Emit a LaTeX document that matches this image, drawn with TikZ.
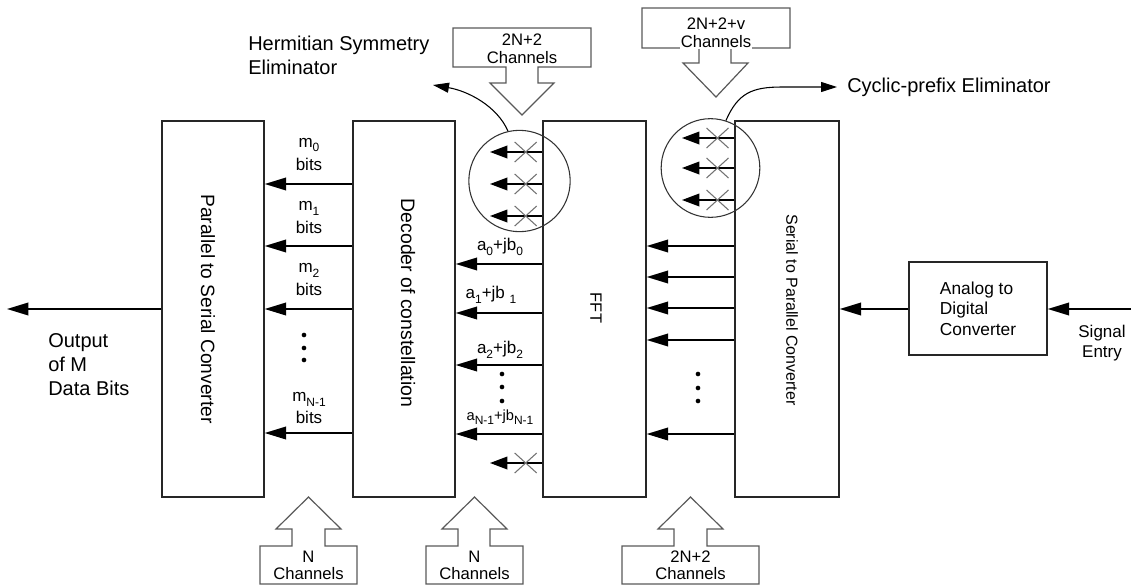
\documentclass[tikz,border=0pt]{standalone}
\usepackage{fontspec}
\setmainfont{Liberation Sans}
\usetikzlibrary{arrows.meta,shapes.geometric}
\newcommand\lowsub[1]{\raisebox{-0.55ex}{\fontsize{9}{9}\selectfont #1}}
\begin{document}
\begin{tikzpicture}[x=0.75pt,y=-0.75pt,
 blk/.style={draw=black!85,line width=1.1pt,minimum width=76.5pt,minimum height=282pt,inner sep=0pt},
 arr/.style={line width=1.1pt,-{Triangle[length=16pt,width=9.5pt]}},
 sarr/.style={line width=1.1pt,-{Triangle[length=13pt,width=9.5pt]}},
 carr/.style={line width=0.8pt,-{Triangle[length=12pt,width=7.5pt]}},
 xmark/.style={draw=black!55,line width=0.8pt},
 barrow/.style={draw=black!65,line width=0.9pt},
 vtext/.style={rotate=-90,inner sep=0pt},
 lbl/.style={font=\fontsize{12.75}{13.5}\selectfont,inner sep=0pt,align=center},
 big/.style={font=\fontsize{15}{18}\selectfont,inner sep=0pt,align=left},
 ch/.style={font=\fontsize{12.5}{14}\selectfont,inner sep=0pt},
 dot/.style={circle,fill,inner sep=0pt,minimum size=3.5pt},
 ring/.style={circle,draw=black!80,line width=0.8pt,minimum size=75pt,inner sep=0pt}
]
\useasboundingbox (0,0) rectangle (1131,585);

% main blocks
\node[blk] (p2s) at (213,309) {};
\node[blk] (dec) at (404,309) {};
\node[blk,minimum width=77.25pt] (fft) at (594.5,309) {};
\node[blk,minimum width=78pt] (s2p) at (787,309) {};
\node[draw=black!85,line width=1.1pt,minimum width=103.5pt,minimum height=69.75pt,inner sep=0pt,
      align=left,font=\fontsize{13}{15.4}\selectfont] (adc) at (978,308.5) {Analog to\\Digital\\Converter};

\node[vtext,font=\fontsize{14.4}{17}\selectfont] (p2sL) at (208,309) {Parallel to Serial Converter};
\node[vtext,font=\fontsize{14.6}{17}\selectfont] (decL) at (408,303) {Decoder of constellation};
\node[vtext,font=\fontsize{12.3}{15}\selectfont] (fftL) at (596,308) {FFT};
\node[vtext,font=\fontsize{12}{15}\selectfont] (s2pL) at (792,310) {Serial to Parallel Converter};

% output and input
\coordinate (out) at (7,309);
\draw[arr] (p2s.west |- 0,309) -- (out);
\node[big] (outL) at (48,365) [anchor=west] {Output\\of M\\Data Bits};
\coordinate (sig) at (1131,309);
\draw[arr] (sig) -- (adc.east |- sig);
\draw[arr] (adc.west |- sig) -- (s2p.east |- sig);
\node[font=\fontsize{12.75}{15}\selectfont,align=center,inner sep=0pt] (sigL) at (1102,343) {Signal\\Entry};

% decoder -> p2s
\foreach \y in {184,246,309,433} \draw[arr] (dec.west |- 0,\y) -- (p2s.east |- 0,\y);
\node[lbl] (m0) at (309,145) {m\lowsub{0}};
\node[lbl] (m0b) at (309,164) {bits};
\node[lbl] (m1) at (309,208) {m\lowsub{1}};
\node[lbl] (m1b) at (309,227) {bits};
\node[lbl] (m2) at (309,270) {m\lowsub{2}};
\node[lbl] (m2b) at (309,289) {bits};
\node[lbl] (mN) at (309,399) {m\lowsub{N-1}};
\node[lbl] (mNb) at (309,417) {bits};
\foreach \y [count=\i] in {335,348,360} \node[dot] (md\i) at (304,\y) {};

% fft -> decoder
\foreach \y in {264,313,365,434} \draw[arr] (fft.west |- 0,\y) -- (dec.east |- 0,\y);
\node[lbl] (a0) at (500,247) {a\lowsub{0}+jb\lowsub{0}};
\node[lbl] (a1) at (491,295) {a\lowsub{1}+jb \lowsub{1}};
\node[lbl] (a2) at (500,350) {a\lowsub{2}+jb\lowsub{2}};
\node[lbl,font=\fontsize{11}{12}\selectfont] (aN) at (500,417) {a\lowsub{N-1}+jb\lowsub{N-1}};
\foreach \y [count=\i] in {374,387,401} \node[dot] (ad\i) at (502,\y) {};

% s2p -> fft
\foreach \y in {246,277,308,340,434} \draw[arr] (s2p.west |- 0,\y) -- (fft.east |- 0,\y);
\foreach \y [count=\i] in {374,388,401} \node[dot] (sd\i) at (698,\y) {};

% Hermitian symmetry eliminator
\node[ring,minimum size=76pt] (herm) at (519.5,181) {};
\foreach \y [count=\i] in {152,184,216,463} {
  \coordinate (he\i) at (490,\y);
  \draw[sarr] (fft.west |- 0,\y) -- (he\i);
  \draw[xmark] (514.7,\y-10) -- (536.7,\y+10) (514.7,\y+10) -- (536.7,\y-10);
}
\coordinate (hermEnd) at (433,85);
\draw[carr] (herm.103) .. controls (497,106) and (468,91) .. (hermEnd);
\node[big] (hermL) at (248,55) [anchor=west] {Hermitian Symmetry\\Eliminator};

% cyclic prefix eliminator
\node[ring,minimum size=74pt] (cyc) at (710.5,168) {};
\foreach \y [count=\i] in {138,168,200} {
  \coordinate (ce\i) at (682,\y);
  \draw[sarr] (s2p.west |- 0,\y) -- (ce\i);
  \draw[xmark] (706.5,\y-10) -- (728.5,\y+10) (706.5,\y+10) -- (728.5,\y-10);
}
\coordinate (cycEnd) at (837,87);
\draw[carr] (cyc.72) .. controls (738,93) and (752,87) .. (782,87) -- (cycEnd);
\node[big] (cycL) at (847,87) [anchor=west] {Cyclic-prefix Eliminator};

% top block arrows
\draw[barrow] (506,67) -- (453,67) -- (453,28) -- (591,28) -- (591,67) -- (538,67) -- (538,83) -- (554,83) -- (522,115) -- (490,83) -- (506,83) -- cycle;
\node[ch] (t1a) at (522,40) {2N+2};
\node[ch] (t1b) at (522,58) {Channels};
\draw[barrow] (699,48) -- (642,48) -- (642,8) -- (790,8) -- (790,48) -- (731,48) -- (731,63) -- (748,63) -- (716,97) -- (683,63) -- (699,63) -- cycle;
\node[ch] (t2a) at (716,24) {2N+2+v};
\node[ch,fill=white,inner sep=0.5pt] (t2b) at (716,42) {Channels};

% bottom block arrows
\draw[barrow] (292,546) -- (260,546) -- (260,584) -- (357,584) -- (357,546) -- (325,546) -- (325,529) -- (341,529) -- (308.5,497) -- (276,529) -- (292,529) -- cycle;
\node[ch] (b1a) at (308.5,557) {N};
\node[ch] (b1b) at (308.5,574) {Channels};
\draw[barrow] (458,546) -- (426,546) -- (426,584) -- (523,584) -- (523,546) -- (490,546) -- (490,529) -- (507,529) -- (474.5,497) -- (442,529) -- (458,529) -- cycle;
\node[ch] (b2a) at (474.5,557) {N};
\node[ch] (b2b) at (474.5,574) {Channels};
\draw[barrow] (674,546) -- (622,546) -- (622,584) -- (759,584) -- (759,546) -- (707,546) -- (707,529) -- (723,529) -- (690.5,497) -- (658,529) -- (674,529) -- cycle;
\node[ch] (b3a) at (690.5,557) {2N+2};
\node[ch] (b3b) at (690.5,574) {Channels};
\end{tikzpicture}
\end{document}
